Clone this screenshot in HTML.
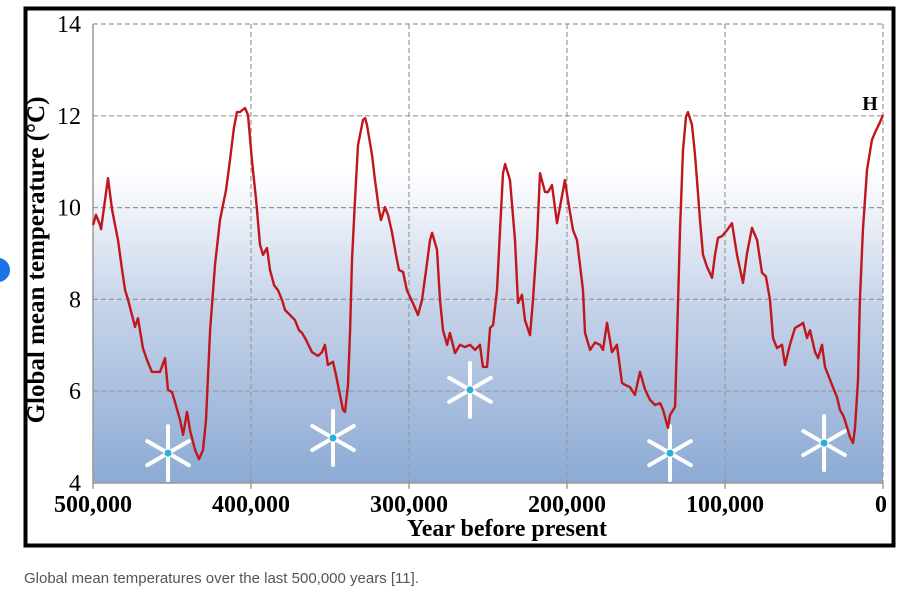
<!DOCTYPE html>
<html><head><meta charset="utf-8"><style>
body{margin:0;background:#fff;width:906px;height:594px;overflow:hidden;font-family:"Liberation Serif",serif}
</style></head><body>
<svg width="906" height="594" viewBox="0 0 906 594" xmlns="http://www.w3.org/2000/svg">
<defs>
<linearGradient id="bg" x1="0" y1="0" x2="0" y2="1">
<stop offset="0" stop-color="#ffffff"/><stop offset="0.32" stop-color="#ffffff"/>
<stop offset="0.6" stop-color="#c8d5ea"/><stop offset="1" stop-color="#8caad4"/>
</linearGradient>
</defs>
<circle cx="-2" cy="270" r="12" fill="#1a73e8"/>
<rect x="25.5" y="8.5" width="868" height="537" fill="#fff" stroke="#000" stroke-width="4"/>
<rect x="93" y="24" width="790" height="459" fill="url(#bg)"/>
<g id="grid"></g>
<g id="axes"></g>
<g id="stars"></g>
<path id="line" fill="none" stroke="#c0161c" stroke-width="2.4" stroke-linejoin="round"/>
<text x="870" y="110" font-size="20" font-weight="bold" text-anchor="middle">H</text>
<text transform="translate(44,260) rotate(-90)" font-size="25" font-weight="bold" text-anchor="middle">Global mean temperature (°C)</text>
<text x="507" y="536" font-size="24" font-weight="bold" text-anchor="middle">Year before present</text>
<text x="24" y="583" font-family="Liberation Sans,sans-serif" font-size="15" fill="#555">Global mean temperatures over the last 500,000 years [11].</text>
</svg>
<script>
const years=[500,498.1,495.6,494.9,493.7,490.5,487.9,484.2,481.6,479.7,477.8,473.4,471.5,468.4,465.8,462.7,457.6,454.4,452.5,450,448.1,444.9,443,440.5,438.6,435.4,432.9,430.4,428.5,425.9,424.7,422.8,419.6,415.8,413.3,410.8,408.9,407,403.8,401.9,399.4,396.8,394.3,392.4,389.9,388,385.4,382.9,380.4,378.5,375.3,372.2,369.6,367.7,365.2,361.4,357.6,355.1,353.2,351.3,348.1,346.2,343.7,341.8,340.5,338.6,337.3,336.1,334.2,332.3,329.1,327.8,326.6,323.4,321.5,319,317.7,315.2,313.3,310.8,308.2,306.3,303.8,301.3,297.5,294.3,291.8,289.2,286.7,285.4,282.3,280.4,278.5,275.9,274.1,270.9,267.7,264.6,261.4,258.2,255.1,253.2,250.6,248.7,246.8,244.3,242.4,240.5,239.2,236.1,232.9,231,228.5,226.6,223.4,221.5,219,217.1,213.9,212,209.5,206.3,201.3,199.4,196.2,193.7,189.9,188.6,185.4,182.3,179.1,177.2,174.7,171.5,168.4,165.2,163.3,160.1,157,153.8,150.6,147.5,144.3,141.1,139.2,136.1,134.8,131.6,129.7,128.5,126.6,124.7,123.4,120.9,119,117.7,115.8,113.9,111.4,108.2,106.3,104.4,101.9,98.7,95.6,92.4,88.6,86.1,82.9,79.7,76.6,74.1,71.5,69.6,67.1,63.9,62,58.9,55.7,52.5,50.6,48.1,46.2,43,41.1,38.6,36.7,32.3,29.1,27.2,25.3,24.1,20.9,19,17.7,15.8,14.6,12.7,10.1,7,5.1,1.9,0];
const temps=[9.62,9.84,9.62,9.53,9.84,10.64,9.95,9.29,8.64,8.2,7.99,7.4,7.59,6.94,6.68,6.42,6.42,6.72,6.03,5.98,5.76,5.37,5.05,5.55,5.15,4.72,4.52,4.72,5.37,7.33,7.88,8.75,9.73,10.38,11.04,11.73,12.08,12.08,12.17,12.02,11.04,10.17,9.19,8.97,9.12,8.64,8.31,8.2,7.99,7.77,7.66,7.55,7.33,7.27,7.12,6.85,6.77,6.85,7.01,6.57,6.64,6.35,5.92,5.59,5.55,6.14,7.33,8.86,10.17,11.36,11.91,11.95,11.8,11.15,10.6,9.95,9.73,10.01,9.84,9.47,8.97,8.64,8.6,8.2,7.92,7.66,7.99,8.64,9.29,9.45,9.08,7.99,7.33,7.01,7.27,6.83,7.01,6.96,7.01,6.9,7.01,6.53,6.53,7.38,7.44,8.2,9.5,10.75,10.95,10.6,9.29,7.92,8.1,7.55,7.22,7.99,9.29,10.75,10.34,10.34,10.49,9.66,10.6,10.17,9.51,9.29,8.2,7.27,6.9,7.06,7.01,6.9,7.49,6.85,7.01,6.18,6.14,6.09,5.92,6.42,6.03,5.81,5.7,5.74,5.59,5.2,5.48,5.66,7.99,9.51,11.25,11.98,12.08,11.8,11.15,10.6,9.73,8.97,8.71,8.47,8.97,9.34,9.38,9.51,9.66,8.97,8.36,9,9.56,9.29,8.58,8.5,7.99,7.16,6.94,7.01,6.57,7.01,7.38,7.44,7.49,7.16,7.33,6.85,6.72,7.01,6.53,6.14,5.87,5.59,5.48,5.37,5,4.87,5.2,6.24,7.99,9.51,10.82,11.47,11.63,11.86,12.02];
const xTicks=[500,400,300,200,100,0];
const xTickLabels=["500,000","400,000","300,000","200,000","100,000","0"];
const yTicks=[4,6,8,10,12,14];
const starYears=[452.5,348.1,261.4,134.8,37.3];
const starTemps=[4.65,4.98,6.03,4.65,4.87];
const X=v=>883-v*1.58, Y=t=>24+(14-t)*45.9;
const NS="http://www.w3.org/2000/svg";
function mk(tag,attrs,parent,txt){const e=document.createElementNS(NS,tag);for(const k in attrs)e.setAttribute(k,attrs[k]);if(txt!==undefined)e.textContent=txt;parent.appendChild(e);return e;}
const grid=document.getElementById('grid'),axes=document.getElementById('axes'),st=document.getElementById('stars');
xTicks.forEach((v,i)=>{
 if(v!==500){const l=mk('line',{x1:X(v),x2:X(v),y1:24,y2:483,stroke:'#999','stroke-width':1.2,'stroke-dasharray':'5 3'},grid);
 
 }
 const t=mk('line',{x1:X(v),x2:X(v),y1:483,y2:489,stroke:'#888','stroke-width':1.2},axes);
 
 
 const lb=mk('text',{x:v===0?X(v)-2:X(v),y:512,'font-size':24,'font-weight':'bold','text-anchor':'middle'},axes,xTickLabels[i]);
 
 
});
yTicks.forEach(v=>{
 if(v!==4){const l=mk('line',{x1:93,x2:883,y1:Y(v),y2:Y(v),stroke:'#999','stroke-width':1.2,'stroke-dasharray':'5 3'},grid);
 
 }
 const lb=mk('text',{x:81,y:Y(v)+8,'font-size':24,'text-anchor':'end'},axes,String(v));
 
 
});
const ax=mk('path',{d:'M93 24V483H883',fill:'none',stroke:'#999','stroke-width':1.5},axes);


starYears.forEach((v,i)=>{
 const cx=X(v),cy=Y(starTemps[i]);const g=mk('g',{},st);
 
 
 [[0,27],[60,24],[120,24]].forEach(([a,r])=>{const rad=a*Math.PI/180,dx=Math.sin(rad)*r,dy=Math.cos(rad)*r;
  mk('line',{x1:cx-dx,y1:cy-dy,x2:cx+dx,y2:cy+dy,stroke:'#fff','stroke-width':4,'stroke-linecap':'round'},g);});
 mk('circle',{cx:cx,cy:cy,r:3.5,fill:'#2ab0d8'},g);
});
document.getElementById('line').setAttribute('d',years.map((v,i)=>(i?'L':'M')+X(v).toFixed(1)+' '+Y(temps[i]).toFixed(1)).join(''));
</script>
</body></html>
